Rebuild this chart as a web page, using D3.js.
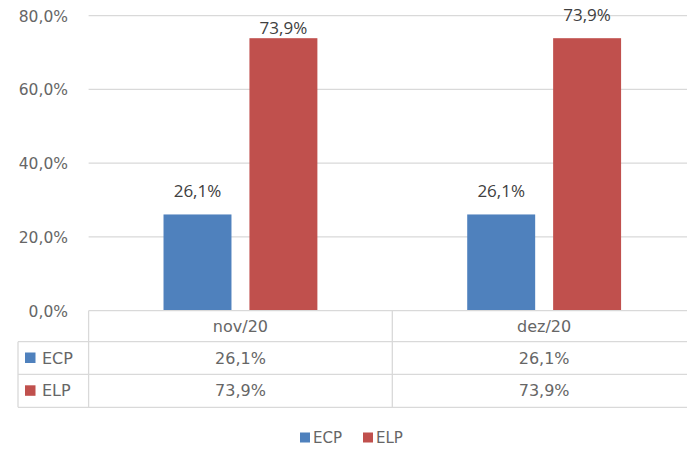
<!DOCTYPE html>
<html><head><meta charset="utf-8">
<script src="https://cdn.jsdelivr.net/npm/d3@7"></script>
<style>body{margin:0;background:#fff}svg{display:block}</style>
</head><body>
<svg id="c" width="687" height="450"></svg>
<script>
const categories = ["nov/20", "dez/20"];
const seriesNames = ["ECP", "ELP"];
const ecpValues = [0.261, 0.261];
const elpValues = [0.739, 0.739];
const yTicks = [0, 0.2, 0.4, 0.6, 0.8];
const colors = {ECP: "#4F81BD", ELP: "#C0504D"};

const values = {ECP: ecpValues, ELP: elpValues};
const loc = d3.formatLocale({decimal: ",", thousands: ".", grouping: [3], currency: ["", ""]});
const fmt = loc.format(".1%");

const svg = d3.select("#c");
const W = 687;
const plotL = 88.6, plotR = 696, yTop = 15.7, yBot = 310.7;
const x = d3.scaleBand().domain(categories).range([plotL, plotR]);
const xi = d3.scaleBand().domain(seriesNames).range([0, x.bandwidth()]).paddingInner(0.209).paddingOuter(0.872);
const y = d3.scaleLinear().domain([0, 0.8]).range([yBot, yTop]);

const axisFont = "DejaVu Sans, sans-serif";
const txtCol = "#666";
const grid = "#d9d9d9";

// gridlines
svg.append("g").selectAll("line").data(yTicks.filter(t => t > 0)).join("line")
  .attr("x1", plotL).attr("x2", W).attr("y1", d => y(d)).attr("y2", d => y(d))
  .attr("stroke", grid).attr("stroke-width", 1.3);

// y axis via d3.axisLeft
const yAxis = svg.append("g").attr("transform", `translate(68,0)`)
  .call(d3.axisLeft(y).tickValues(yTicks).tickFormat(fmt).tickSize(0).tickPadding(0));
yAxis.select(".domain").remove();
yAxis.selectAll("text").attr("font-family", axisFont).attr("font-size", 15.5).attr("fill", txtCol)
  .attr("dy", "0.35em");

// bars
const rows = [];
categories.forEach((c, i) => seriesNames.forEach(s => rows.push({c, s, i, v: values[s][i]})));
svg.append("g").selectAll("rect").data(rows).join("rect")
  .attr("x", d => x(d.c) + xi(d.s)).attr("width", xi.bandwidth())
  .attr("y", d => y(d.v)).attr("height", d => y(0) - y(d.v))
  .attr("fill", d => colors[d.s]);

// data labels (first tall label sits just above its bar, as in the reference)
svg.append("g").selectAll("text").data(rows).join("text")
  .attr("x", d => x(d.c) + xi(d.s) + xi.bandwidth() / 2)
  .attr("y", d => y(d.v) - ((d.i === 0 && d.s === "ELP") ? 4 : 17))
  .attr("text-anchor", "middle")
  .attr("font-family", "Open Sans, sans-serif").attr("font-size", 17)
  .attr("fill", "#404040")
  .text(d => fmt(d.v));

// data table
const tL = 18, rowY = [310.7, 341.7, 374.3, 407.3];
const tg = svg.append("g").attr("stroke", grid).attr("stroke-width", 1.3);
tg.append("line").attr("x1", plotL).attr("x2", W).attr("y1", rowY[0]).attr("y2", rowY[0]);
[1, 2, 3].forEach(k => tg.append("line").attr("x1", tL).attr("x2", W).attr("y1", rowY[k]).attr("y2", rowY[k]));
tg.append("line").attr("x1", tL).attr("x2", tL).attr("y1", rowY[1]).attr("y2", rowY[3]);
tg.append("line").attr("x1", plotL).attr("x2", plotL).attr("y1", rowY[0]).attr("y2", rowY[3]);
tg.append("line").attr("x1", x(categories[1])).attr("x2", x(categories[1])).attr("y1", rowY[0]).attr("y2", rowY[3]);

const tt = svg.append("g").attr("font-family", axisFont).attr("font-size", 16).attr("fill", txtCol);
categories.forEach(c => {
  tt.append("text").attr("x", x(c) + x.bandwidth() / 2).attr("y", (rowY[0] + rowY[1]) / 2)
    .attr("dy", "0.35em").attr("text-anchor", "middle").text(c);
});
seriesNames.forEach((s, k) => {
  const cy = (rowY[k + 1] + rowY[k + 2]) / 2;
  svg.append("rect").attr("x", 25).attr("y", cy - 5.5).attr("width", 10.5).attr("height", 10.5).attr("fill", colors[s]);
  tt.append("text").attr("x", 42).attr("y", cy).attr("dy", "0.35em").text(s);
  categories.forEach((c, i) => {
    tt.append("text").attr("x", x(c) + x.bandwidth() / 2).attr("y", cy).attr("dy", "0.35em")
      .attr("text-anchor", "middle").text(fmt(values[s][i]));
  });
});

// bottom legend
const lg = svg.append("g").attr("font-family", axisFont).attr("font-size", 15).attr("fill", txtCol);
const legX = [300, 363];
seriesNames.forEach((s, k) => {
  lg.append("rect").attr("x", legX[k]).attr("y", 432.5).attr("width", 10).attr("height", 10).attr("fill", colors[s]);
  lg.append("text").attr("x", legX[k] + 13).attr("y", 437.5).attr("dy", "0.35em").text(s);
});
</script>
</body></html>
